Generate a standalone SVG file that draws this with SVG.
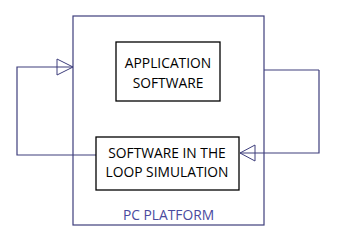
<svg xmlns="http://www.w3.org/2000/svg" width="342" height="252" viewBox="0 0 342 252">
<defs>
<style>
.box{fill:#fff;stroke:#000;stroke-width:1.3}
.plat{fill:none;stroke:#3e3e7c;stroke-width:1.2}
.conn{fill:none;stroke:#3e3e7c;stroke-width:1.2}
.head{fill:none;stroke:#3e3e7c;stroke-width:1}
.t{font-family:"Open Sans","Noto Sans",sans-serif;font-size:13.8px;fill:#000;text-anchor:middle}
.pt{font-family:"Open Sans","Noto Sans",sans-serif;font-size:13.8px;fill:#4a4a9e;text-anchor:middle}
</style>
</defs>
<rect width="342" height="252" fill="#fff"/>
<g id="pc-platform">
<rect class="plat" x="73" y="16" width="191" height="209"/>
<text class="pt" x="168.5" y="220">PC PLATFORM</text>
</g>
<g id="connectors">
<polyline class="conn" points="96,155 17,155 17,67 73,67"/>
<polygon class="head" points="73,67 57,59 57,75"/>
<polyline class="conn" points="319,70 319,153 240,153"/>
<line class="conn" x1="264" y1="70" x2="319" y2="70"/>
<polygon class="head" points="240,153 255,145 255,161"/>
</g>
<g id="application-software">
<rect class="box" x="116" y="42" width="104" height="59"/>
<text class="t" x="168" y="67.5">APPLICATION</text>
<text class="t" x="168" y="87.5">SOFTWARE</text>
</g>
<g id="sil">
<rect class="box" x="96" y="137" width="143" height="53"/>
<text class="t" x="167" y="158">SOFTWARE IN THE</text>
<text class="t" x="167" y="177">LOOP SIMULATION</text>
</g>
</svg>
